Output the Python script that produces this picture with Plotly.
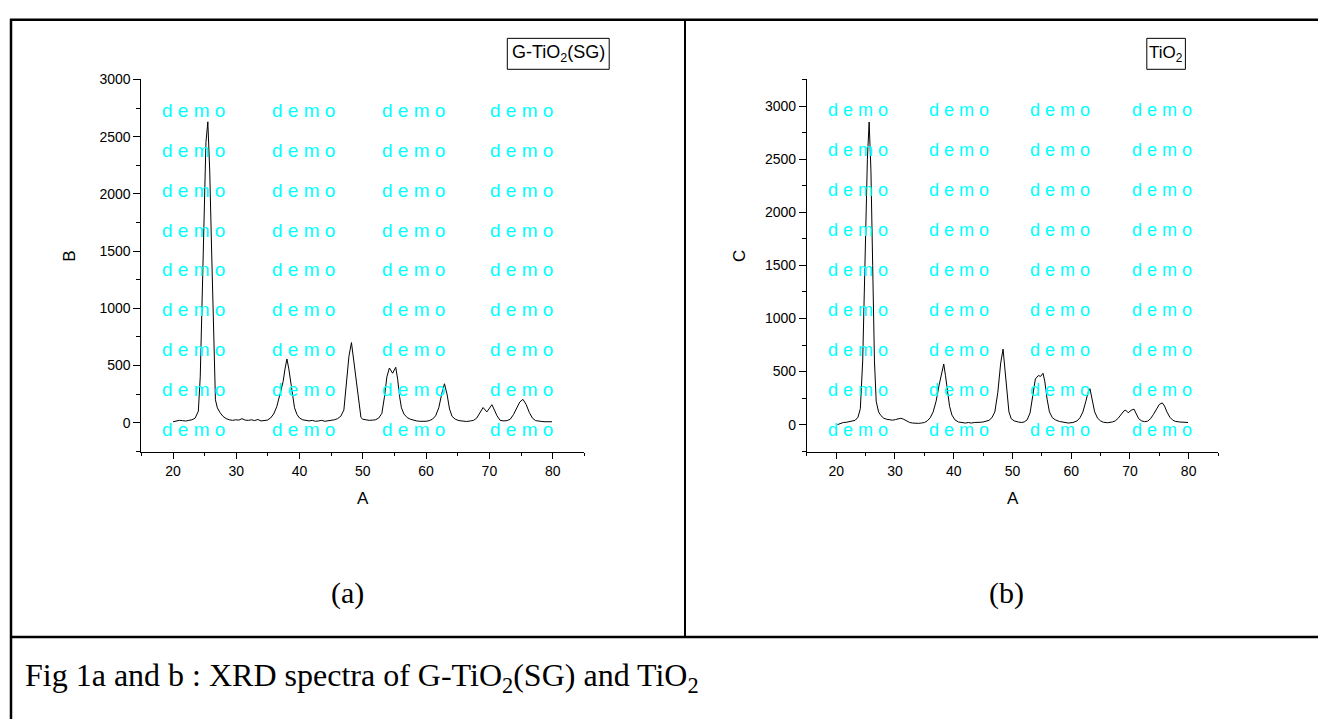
import plotly.graph_objects as go

W, H = 1318, 719

# ---------------- data ----------------
x_a = [20.0, 20.5, 21.0, 21.5, 22.0, 22.5, 23.0, 23.5, 24.0, 24.3, 24.6, 24.9, 25.2, 25.5, 25.8,
       26.1, 26.4, 26.7, 27.0, 27.4, 27.9, 28.4, 28.9, 29.4, 29.9, 30.4, 30.9, 31.4, 31.9, 32.4,
       32.9, 33.4, 33.9, 34.4, 34.9, 35.4, 35.9, 36.4, 36.9, 37.4, 37.7, 38.0, 38.3, 38.6, 38.9,
       39.2, 39.6, 40.0, 40.5, 41.0, 41.5, 42.0, 42.5, 43.0, 43.5, 44.0, 44.5, 45.0, 45.5, 46.0,
       46.5, 47.0, 47.4, 47.8, 48.2, 48.6, 49.0, 49.4, 49.7, 50.0, 50.5, 51.0, 51.5, 52.0, 52.5,
       53.0, 53.4, 53.8, 54.2, 54.7, 55.2, 55.5, 55.8, 56.1, 56.5, 57.0, 57.5, 58.0, 58.5, 59.0,
       59.5, 60.0, 60.5, 61.0, 61.5, 62.0, 62.5, 62.9, 63.3, 63.7, 64.1, 64.6, 65.2, 65.8, 66.4,
       67.0, 67.5, 68.0, 68.5, 69.0, 69.6, 70.4, 70.8, 71.2, 71.7, 72.3, 72.8, 73.3, 73.8, 74.3,
       74.8, 75.3, 75.8, 76.3, 76.8, 77.3, 77.8, 78.3, 78.8, 79.3, 79.9]
y_a = [8, 15, 20, 18, 14, 20, 25, 40, 100, 400, 1100, 1900, 2450, 2630, 2200,
       1500, 800, 200, 130, 90, 55, 35, 25, 20, 25, 22, 35, 22, 20, 25,
       18, 28, 15, 18, 22, 40, 75, 140, 240, 360, 470, 557, 470, 340, 210,
       130, 70, 40, 25, 18, 15, 20, 12, 15, 20, 12, 15, 18, 25, 35,
       55, 110, 330, 580, 700, 520, 320, 140, 45, 30, 25, 20, 22, 25, 40,
       80, 220, 400, 478, 432, 484, 380, 230, 130, 75, 45, 30, 20, 15, 12,
       10, 12, 18, 30, 60, 130, 260, 340, 250, 120, 55, 30, 18, 12, 10,
       15, 20, 40, 90, 132, 94, 157, 110, 60, 20, 15, 18, 30, 70, 120,
       180, 204, 160, 90, 40, 18, 12, 10, 8, 10, 8]

x_b = [20.2, 20.7, 21.2, 21.7, 22.2, 22.7, 23.2, 23.7, 24.1, 24.5, 24.9, 25.3, 25.6, 25.9, 26.2,
       26.5, 26.8, 27.2, 27.6, 28.1, 28.6, 29.1, 29.6, 30.1, 30.6, 31.0, 31.5, 32.0, 32.5, 33.0,
       33.5, 34.0, 34.5, 35.0, 35.5, 36.0, 36.5, 37.0, 37.5, 38.0, 38.3, 38.6, 38.9, 39.3, 39.7,
       40.2, 40.8, 41.4, 42.0, 42.5, 43.0, 43.5, 44.0, 44.5, 45.0, 45.5, 46.0, 46.5, 47.0, 47.5,
       48.0, 48.4, 48.7, 49.0, 49.4, 49.8, 50.3, 51.0, 51.5, 52.0, 52.5, 53.0, 53.5, 53.9, 54.4,
       54.8, 55.2, 55.5, 55.9, 56.3, 56.8, 57.3, 58.0, 58.8, 59.5, 60.3, 61.0, 61.5, 62.0, 62.5,
       62.9, 63.2, 63.6, 64.0, 64.5, 65.0, 65.5, 66.2, 67.0, 67.5, 68.0, 68.5, 69.0, 69.3, 69.7,
       70.2, 70.7, 71.1, 71.5, 72.0, 72.5, 73.0, 73.5, 74.0, 74.5, 75.0, 75.5, 75.9, 76.3, 76.8,
       77.3, 77.8, 78.5, 79.2, 79.9]
y_b = [0, 10, 20, 22, 28, 32, 40, 70, 150, 600, 1600, 2500, 2850, 2400, 1500,
       600, 220, 120, 85, 60, 50, 45, 42, 48, 58, 60, 50, 32, 20, 15,
       12, 12, 15, 20, 35, 65, 120, 220, 370, 520, 571, 460, 310, 170, 90,
       45, 25, 18, 15, 20, 15, 20, 18, 22, 25, 30, 40, 65, 120, 300,
       580, 711, 540, 300, 120, 55, 35, 25, 20, 25, 45, 110, 280, 430, 462,
       455, 484, 410, 240, 120, 65, 45, 30, 20, 15, 20, 35, 65, 120, 220,
       310, 338, 230, 120, 60, 35, 22, 18, 25, 35, 60, 100, 130, 136, 112,
       135, 146, 100, 55, 35, 28, 32, 55, 95, 145, 190, 205, 175, 120, 70,
       42, 30, 25, 22, 20]

x_ticks = [20, 30, 40, 50, 60, 70, 80]
y_ticks = [0, 500, 1000, 1500, 2000, 2500, 3000]


def px(x):
    return x / W


def py(y):
    return 1 - y / H


fig = go.Figure()
fig.add_trace(go.Scatter(x=x_a, y=y_a, mode='lines', line=dict(color='black', width=1),
                         xaxis='x', yaxis='y', showlegend=False, hoverinfo='skip'))
fig.add_trace(go.Scatter(x=x_b, y=y_b, mode='lines', line=dict(color='black', width=1),
                         xaxis='x2', yaxis='y2', showlegend=False, hoverinfo='skip'))

tickfont = dict(family='Liberation Sans, Arial, sans-serif', size=14, color='black')
common = dict(showline=True, linecolor='black', linewidth=1, ticks='outside', tickcolor='black',
              tickwidth=1, showgrid=False, zeroline=False, tickfont=tickfont, fixedrange=True)

xcommon = dict(range=[15, 85], tickvals=x_ticks, ticklen=6,
               minor=dict(dtick=5, tick0=0, ticklen=3.5, ticks='outside', tickcolor='black', showgrid=False),
               **common)
ycommon = dict(tickvals=y_ticks, ticklen=7,
               minor=dict(dtick=250, tick0=0, ticklen=4, ticks='outside', tickcolor='black', showgrid=False),
               **common)

ydom = [py(448.7), py(72.3)]
fig.update_layout(
    width=W, height=H, margin=dict(l=0, r=0, t=0, b=0),
    paper_bgcolor='white', plot_bgcolor='white',
    xaxis=dict(domain=[px(141.4), px(584.3)], anchor='y', **xcommon),
    yaxis=dict(domain=ydom, range=[-254, 3000], anchor='x', **ycommon),
    xaxis2=dict(domain=[px(806.9), px(1218.0)], anchor='y2', **xcommon),
    yaxis2=dict(domain=ydom, range=[-255, 3251], anchor='x2', **ycommon),
)

shapes = []
def hline(y, x0, x1, w):
    shapes.append(dict(type='line', xref='paper', yref='paper', x0=px(x0), x1=px(x1),
                       y0=py(y), y1=py(y), line=dict(color='black', width=w)))
def vline(x, y0, y1, w):
    shapes.append(dict(type='line', xref='paper', yref='paper', x0=px(x), x1=px(x),
                       y0=py(y0), y1=py(y1), line=dict(color='black', width=w)))
def rect(x0, y0, x1, y1):
    shapes.append(dict(type='rect', xref='paper', yref='paper', x0=px(x0), x1=px(x1),
                       y0=py(y1), y1=py(y0), line=dict(color='black', width=1)))

hline(12, 10, W, 2.5)
vline(11, 11, H, 2.5)
vline(685, 12, 636, 2)
hline(636, 10, W, 2.5)
rect(507.3, 30.7, 609.2, 62)
rect(1146.8, 30.7, 1185.4, 62)

ann = []
def text(x, y, s, size, family='Liberation Sans, Arial, sans-serif', color='black',
         xanchor='center', yanchor='middle', angle=0):
    ann.append(dict(x=px(x), y=py(y), xref='paper', yref='paper', text=s, showarrow=False,
                    xanchor=xanchor, yanchor=yanchor, textangle=angle,
                    font=dict(family=family, size=size, color=color)))

# watermark
rows = [103.3 + 40.4 * k for k in range(9)]
for cx in [160, 270, 380, 488]:
    for ry in rows:
        text(cx, ry, 'd e m o', 19, color='#00FFFF', xanchor='left')
for cx in [825.8, 927.3, 1028.4, 1130]:
    for ry in rows:
        text(cx, ry, 'd e m o', 18, color='#00FFFF', xanchor='left')

# legends
text(558.3, 46.4, 'G-TiO<sub>2</sub>(SG)', 18)
text(1166.1, 46.4, 'TiO<sub>2</sub>', 17)

# axis titles
text(362.9, 496, 'A', 17)
text(1012.5, 496, 'A', 17)
text(69.5, 251, 'B', 17, angle=-90)
text(739.7, 251, 'C', 17, angle=-90)

serif = 'Liberation Serif, Times New Roman, serif'
text(347, 592, '(a)', 30, family=serif)
text(1006, 592, '(b)', 30, family=serif)
text(23, 677, 'Fig 1a and b : XRD spectra of G-TiO<sub>2</sub>(SG) and TiO<sub>2</sub>', 32,
     family=serif, xanchor='left')

fig.update_layout(shapes=shapes, annotations=ann)
fig.write_html('out.html')
